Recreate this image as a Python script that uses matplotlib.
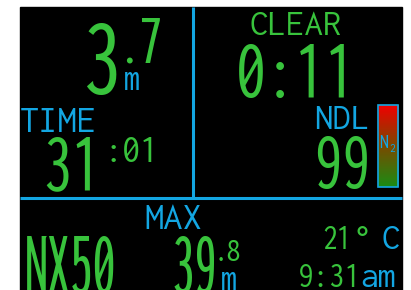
"""
Dive computer screen: depth, dive time, clear time, NDL, gas, max depth, temperature, clock.
"""
import os
import numpy as np
import matplotlib
matplotlib.use("Agg")
import matplotlib.pyplot as plt
from matplotlib import font_manager as fm
from matplotlib.patches import Rectangle
from matplotlib.colors import LinearSegmentedColormap

# screen values
depth_whole = "3"
depth_tenth = "7"
depth_unit = "m"
time_label = "TIME"
time_min = "31"
time_sec = ":01"
clear_label = "CLEAR"
clear_time = "0:11"
ndl_label = "NDL"
ndl_value = "99"
gas_name = "NX50"
max_label = "MAX"
max_whole = "39"
max_tenth = "8"
temp_value = "21"
temp_unit = "C"
clock_time = "9:31"
clock_ampm = "am"

GREEN = "#38c33c"
BLUE = "#13a6e2"

font_files = {os.path.basename(f.fname): f.fname for f in fm.fontManager.ttflist}


def font(*names):
    for n in names:
        if n in font_files:
            return fm.FontProperties(fname=font_files[n])
    return fm.FontProperties(family="DejaVu Sans", stretch="condensed")


wide = font("Inconsolata-Regular.ttf", "Inconsolata-SemiCondensedRegular.ttf")
semi = font("Inconsolata-SemiCondensedRegular.ttf", "Inconsolata-Regular.ttf")
cond = font("Inconsolata-CondensedRegular.ttf", "Inconsolata-SemiCondensedRegular.ttf")
narrow = font("Inconsolata-ExtraCondensedRegular.ttf", "Inconsolata-CondensedRegular.ttf")
ultra = font("Inconsolata-UltraCondensedRegular.ttf", "Inconsolata-ExtraCondensedRegular.ttf")

fig = plt.figure(figsize=(4.11, 2.90), dpi=100)
fig.patch.set_facecolor("white")
ax = fig.add_axes([0, 0, 1, 1])
ax.set_xlim(0, 411)
ax.set_ylim(290, 0)
ax.axis("off")

# screen background and dividers
ax.add_patch(Rectangle((20, 7), 382, 290, color="black", zorder=0))
ax.plot([193.3, 193.3], [7, 198.3], color=BLUE, lw=2.2, solid_capstyle="butt")
ax.plot([20, 402], [198.3, 198.3], color=BLUE, lw=2.2, solid_capstyle="butt")


def txt(x, y, s, size, color, fp, ha="left"):
    ax.text(x, y, s, fontproperties=fp, fontsize=size, color=color,
            ha=ha, va="baseline")


# depth
txt(121, 94, depth_whole, 82, GREEN, narrow, "right")
txt(129.5, 63, ".", 40, GREEN, semi, "center")
txt(138, 63, depth_tenth, 52, GREEN, narrow)
txt(124, 90, depth_unit, 28, BLUE, cond)

# dive time
txt(20, 132, time_label, 27.7, BLUE, wide)
txt(102, 189, time_min, 61, GREEN, narrow, "right")
txt(104, 162, time_sec, 29, GREEN, semi)

# clear time
txt(296, 35, clear_label, 26.6, GREEN, wide, "center")
txt(296, 97, clear_time, 62, GREEN, narrow, "center")

# NDL and N2 loading bar
txt(370, 129, ndl_label, 26.6, BLUE, wide, "right")
txt(371, 188, ndl_value, 59, GREEN, narrow, "right")
bar_cmap = LinearSegmentedColormap.from_list("n2", ["#f00000", "#7a4a00", "#1b8c14"])
ax.imshow(np.linspace(0, 1, 100).reshape(-1, 1), cmap=bar_cmap, aspect="auto",
          extent=(378, 398, 187, 105), zorder=1)
ax.add_patch(Rectangle((378, 105), 20, 82, fill=False, ec=BLUE, lw=1.2, zorder=2))
txt(384, 148, "N", 16, BLUE, cond, "center")
txt(389, 152, "2", 9, BLUE, semi)

# bottom row
txt(173, 229, max_label, 27.7, BLUE, wide, "center")
txt(25, 293, gas_name, 66, GREEN, ultra)
txt(217, 293, max_whole, 66, GREEN, ultra, "right")
txt(221, 261, ".", 24, GREEN, semi, "center")
txt(225, 261, max_tenth, 24, GREEN, semi)
txt(221, 290, "m", 28, BLUE, cond)
txt(352, 249, temp_value, 26.6, GREEN, cond, "right")
txt(352, 249, "°", 26.6, GREEN, wide)
txt(400, 249, temp_unit, 26.6, BLUE, wide, "right")
txt(361, 287, clock_time, 25.4, GREEN, semi, "right")
txt(360, 287, clock_ampm, 25.4, BLUE, wide)

fig.savefig("out.png", dpi=100, facecolor="white")
